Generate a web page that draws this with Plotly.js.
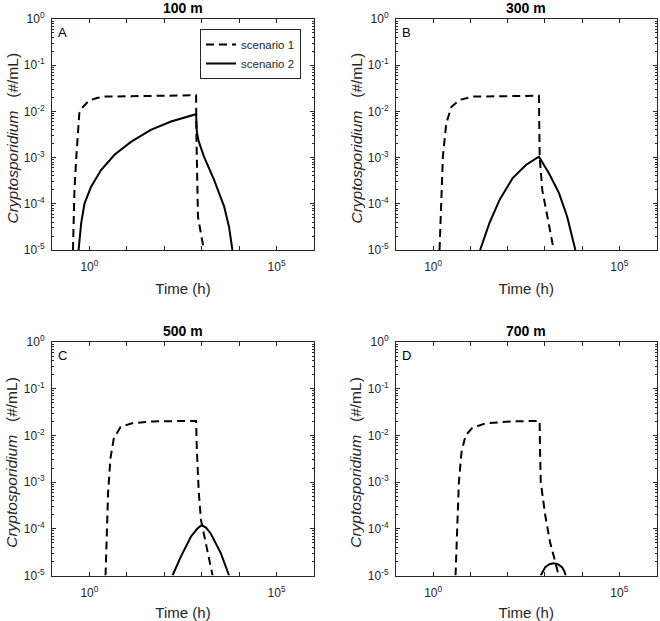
<!DOCTYPE html>
<html>
<head>
<meta charset="utf-8">
<script src="https://cdn.plot.ly/plotly-3.0.1.min.js"></script>
<style>html,body{margin:0;padding:0;background:#fff;}#chart{width:660px;height:621px;}</style>
</head>
<body>
<div id="chart"></div>
<script>
// ---- Data, stored as log10(time [h]) and log10(concentration [#/mL]) ----
const panelTitles = ["100 m", "300 m", "500 m", "700 m"];
const panelLetters = ["A", "B", "C", "D"];
const seriesNames = ["scenario 1", "scenario 2"];

// Panel A (100 m)
const A_s1_logT = [-0.44, -0.40, -0.35, -0.31, -0.27, -0.20, -0.13, -0.04, 0.045, 0.20, 0.40, 1.00, 2.00, 2.85, 2.86, 2.88, 2.90, 2.98, 3.06];
const A_s1_logC = [-5.0, -3.70, -2.98, -2.40, -2.04, -1.93, -1.86, -1.79, -1.75, -1.71, -1.68, -1.67, -1.66, -1.65, -2.6, -3.6, -4.28, -4.65, -5.0];
const A_s2_logT = [-0.29, -0.22, -0.13, 0.045, 0.31, 0.67, 1.11, 1.64, 2.18, 2.85, 2.87, 2.92, 3.06, 3.33, 3.60, 3.73, 3.82];
const A_s2_logC = [-5.0, -4.42, -3.99, -3.63, -3.27, -2.94, -2.66, -2.40, -2.22, -2.06, -2.45, -2.65, -2.98, -3.48, -4.06, -4.50, -5.0];

// Panel B (300 m)
const B_s1_logT = [0.17, 0.22, 0.26, 0.35, 0.49, 0.71, 1.06, 2.00, 2.84, 2.85, 2.86, 2.93, 3.11, 3.24];
const B_s1_logC = [-5.0, -4.06, -2.98, -2.26, -1.90, -1.75, -1.68, -1.67, -1.66, -2.3, -2.98, -3.70, -4.42, -5.0];
const B_s2_logT = [1.26, 1.51, 1.78, 2.13, 2.49, 2.84, 3.11, 3.38, 3.60, 3.73, 3.82];
const B_s2_logC = [-5.0, -4.42, -3.92, -3.45, -3.16, -2.98, -3.34, -3.77, -4.28, -4.71, -5.0];

// Panel C (500 m)
const C_s1_logT = [0.43, 0.45, 0.50, 0.56, 0.65, 0.83, 1.14, 1.67, 2.85, 2.87, 2.92, 2.98, 3.16, 3.29];
const C_s1_logC = [-5.0, -4.29, -3.21, -2.5, -2.07, -1.82, -1.74, -1.70, -1.69, -2.3, -3.2, -3.81, -4.52, -5.0];
const C_s2_logT = [2.22, 2.44, 2.71, 2.88, 3.00, 3.12, 3.24, 3.51, 3.73];
const C_s2_logC = [-5.0, -4.60, -4.17, -4.00, -3.92, -3.98, -4.10, -4.52, -5.0];

// Panel D (700 m)
const D_s1_logT = [0.60, 0.65, 0.69, 0.76, 0.87, 1.05, 1.41, 2.12, 2.86, 2.87, 2.89, 3.01, 3.14, 3.28, 3.37];
const D_s1_logC = [-5.0, -3.93, -3.0, -2.36, -2.0, -1.84, -1.74, -1.70, -1.69, -2.3, -3.0, -3.71, -4.29, -4.71, -5.0];
const D_s2_logT = [2.89, 2.95, 3.01, 3.12, 3.23, 3.35, 3.46, 3.52, 3.56];
const D_s2_logC = [-5.0, -4.9, -4.82, -4.76, -4.74, -4.76, -4.82, -4.9, -5.0];

const panels = [
  {s1t: A_s1_logT, s1c: A_s1_logC, s2t: A_s2_logT, s2c: A_s2_logC},
  {s1t: B_s1_logT, s1c: B_s1_logC, s2t: B_s2_logT, s2c: B_s2_logC},
  {s1t: C_s1_logT, s1c: C_s1_logC, s2t: C_s2_logT, s2c: C_s2_logC},
  {s1t: D_s1_logT, s1c: D_s1_logC, s2t: D_s2_logT, s2c: D_s2_logC}
];

const xTickExp = [-1, 0, 1, 2, 3, 4, 5, 6];
const xTickLabelExp = [0, 5];
const yTickExp = [0, -1, -2, -3, -4, -5];

const W = 660, H = 621;
// pixel boxes of plot areas [left, right, top, bottom]
const boxes = [
  [52, 314, 19, 250],
  [396, 656.5, 19, 250],
  [52, 314, 342, 575.5],
  [396, 656.5, 342, 575.5]
];

const FONT = "Liberation Sans, Arial, Helvetica, sans-serif";
const AXC = "#262626";
const pow10 = v => Math.pow(10, v);

const traces = [];
const layout = {
  width: W, height: H,
  margin: {l: 0, r: 0, t: 0, b: 0},
  paper_bgcolor: "#fff", plot_bgcolor: "#fff",
  font: {family: FONT, size: 12, color: AXC},
  showlegend: true,
  legend: {
    x: 200 / W, y: 1 - 29 / H, xanchor: "left", yanchor: "top",
    bordercolor: "#262626", borderwidth: 1, bgcolor: "#fff",
    font: {family: FONT, size: 11.5, color: AXC},
    tracegroupgap: 0, itemwidth: 30
  },
  annotations: []
};

const minorVals = [];
for (let e = -5; e < 0; e++) for (let m = 2; m <= 9; m++) minorVals.push(m * Math.pow(10, e));

panels.forEach((p, i) => {
  const n = i + 1;
  const xa = "x" + (n === 1 ? "" : n), ya = "y" + (n === 1 ? "" : n);
  traces.push({
    x: p.s1t.map(pow10), y: p.s1c.map(pow10), xaxis: xa, yaxis: ya,
    mode: "lines", name: seriesNames[0], showlegend: i === 0,
    line: {color: "#000", width: 2, dash: "8px,5px"}
  });
  traces.push({
    x: p.s2t.map(pow10), y: p.s2c.map(pow10), xaxis: xa, yaxis: ya,
    mode: "lines", name: seriesNames[1], showlegend: i === 0,
    line: {color: "#000", width: 2}
  });
  const b = boxes[i];
  const xk = "xaxis" + (n === 1 ? "" : n), yk = "yaxis" + (n === 1 ? "" : n);
  layout[xk] = {
    type: "log", range: [-1, 6], domain: [b[0] / W, b[1] / W], anchor: ya,
    tickvals: xTickExp.map(pow10),
    ticktext: xTickExp.map(e => xTickLabelExp.includes(e) ? "10<sup>" + e + "</sup>" : ""),
    ticks: "inside", ticklen: 4, tickcolor: AXC, tickwidth: 1,
    showline: true, linecolor: AXC, linewidth: 1, mirror: "ticks",
    showgrid: false, zeroline: false, ticklabelstandoff: 6,
    tickfont: {family: FONT, size: 12, color: AXC},
    title: {text: "Time (h)", font: {family: FONT, size: 15, color: AXC}, standoff: 10}
  };
  layout[yk] = {
    type: "log", range: [-5, 0], domain: [1 - b[3] / H, 1 - b[2] / H], anchor: xa,
    tickvals: yTickExp.map(pow10),
    ticktext: yTickExp.map(e => "10<sup>" + e + "</sup>"),
    ticks: "inside", ticklen: 4, tickcolor: AXC, tickwidth: 1,
    showline: true, linecolor: AXC, linewidth: 1, mirror: "ticks",
    showgrid: false, zeroline: false, ticklabelstandoff: 4,
    tickfont: {family: FONT, size: 12, color: AXC},
    minor: {tickvals: minorVals, ticks: "inside", ticklen: 2, tickcolor: AXC, showgrid: false}
  };
  // panel title
  layout.annotations.push({
    xref: "paper", yref: "paper", x: (b[0] + b[1]) / 2 / W, y: 1 - (b[2] - 11) / H,
    text: "<b>" + panelTitles[i] + "</b>", showarrow: false,
    font: {family: FONT, size: 14, color: "#000"}, xanchor: "center", yanchor: "middle"
  });
  // panel letter
  layout.annotations.push({
    xref: "paper", yref: "paper", x: (b[0] + 4) / W, y: 1 - (b[2] + 13) / H,
    text: panelLetters[i], showarrow: false,
    font: {family: FONT, size: 13, color: "#000"}, xanchor: "left", yanchor: "middle"
  });
  // y title
  layout.annotations.push({
    xref: "paper", yref: "paper", x: (b[0] - 40) / W, y: 1 - ((b[2] + b[3]) / 2 + 4) / H,
    text: "<i>Cryptosporidium</i>\u00a0\u00a0\u00a0(#/mL)", showarrow: false, textangle: -90,
    font: {family: FONT, size: 15.5, color: AXC}, xanchor: "center", yanchor: "middle"
  });
});

Plotly.newPlot("chart", traces, layout, {staticPlot: true, displayModeBar: false});
</script>
</body>
</html>
